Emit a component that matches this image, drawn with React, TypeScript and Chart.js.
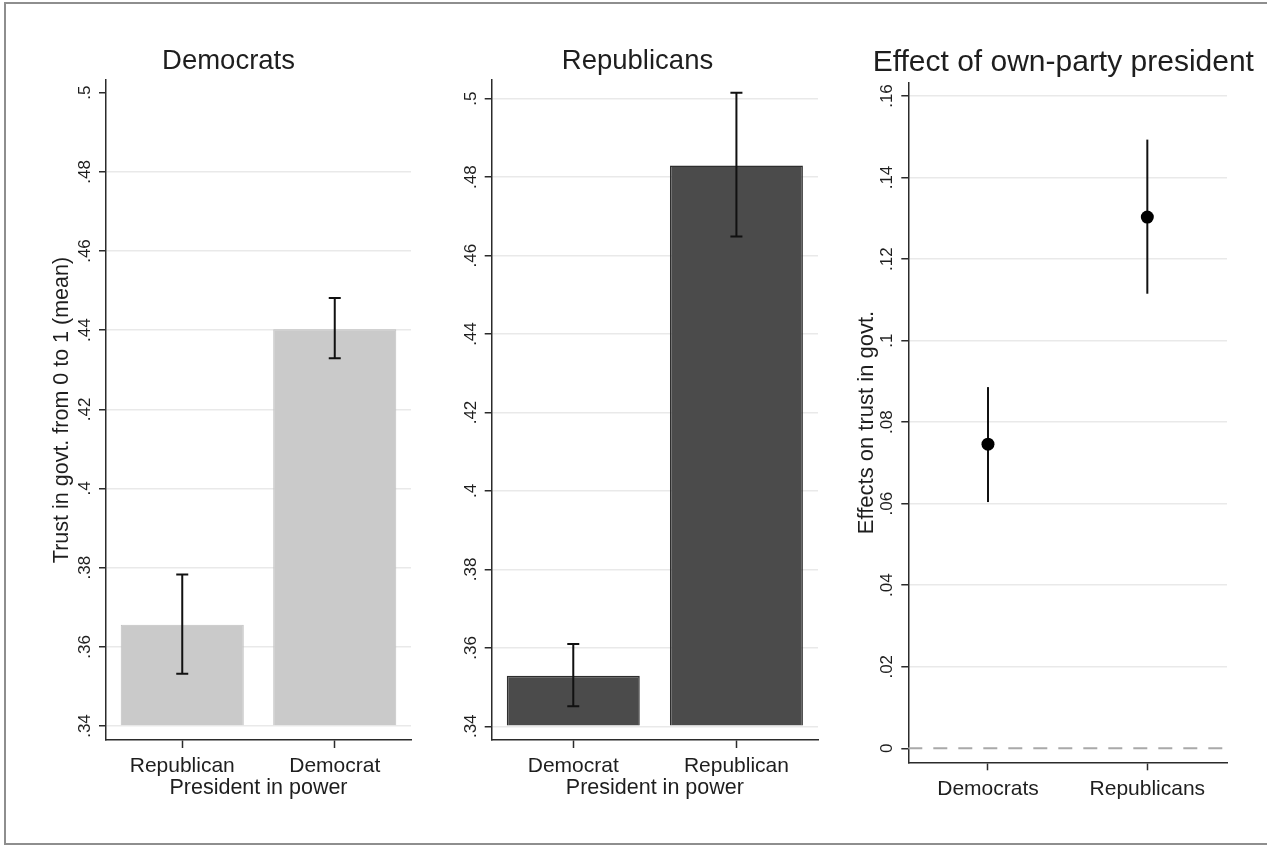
import React, { useEffect, useRef } from 'react';
import { Chart, registerables } from 'chart.js';

Chart.register(...registerables);

const FONT = '"Liberation Sans", Arial, Helvetica, sans-serif';
const TEXT = '#1e1e1e';
const AXIS = '#2b2b2b';
const GRID = '#e9e9e9';

// ---------- data ----------
const demCategories = ['Republican', 'Democrat'];
const demMeans = [0.3656, 0.4402];
const demLow = [0.3532, 0.4329];
const demHigh = [0.3783, 0.4481];

const repCategories = ['Democrat', 'Republican'];
const repMeans = [0.3529, 0.483];
const repLow = [0.3451, 0.4649];
const repHigh = [0.361, 0.5015];

const effectCategories = ['Democrats', 'Republicans'];
const effectEstimates = [0.0746, 0.1303];
const effectLow = [0.0604, 0.1115];
const effectHigh = [0.0886, 0.1493];

const trustTicks = [0.34, 0.36, 0.38, 0.4, 0.42, 0.44, 0.46, 0.48, 0.5];
const effectTicks = [0, 0.02, 0.04, 0.06, 0.08, 0.1, 0.12, 0.14, 0.16];
const barBase = 0.34;

const fmt = (v: number) =>
  v === 0 ? '0' : v.toFixed(2).replace(/0+$/, '').replace(/^0/, '');

type PanelCfg = {
  left: number;
  width: number;
  pl: number;
  pr: number;
  yWidth: number;
  rightWidth: number;
  xHeight: number;
  xTickPad: number;
  title: string;
  titleSize: number;
  titlePad: { top: number; bottom: number };
  yTitle?: string;
  yTitleSize?: number;
  yTitlePad?: number;
  xTitle?: string;
  yMin: number;
  yMax: number;
  ticks: number[];
  hiddenGrid: number[];
  kind: 'bar' | 'point';
  categories: string[];
  values: number[];
  low: number[];
  high: number[];
  barColor?: string;
  barBorder?: string;
  barBorderWidth?: number;
  barPct?: number;
};

function makeChart(canvas: HTMLCanvasElement, c: PanelCfg) {
  const yLabels = {
    id: 'yLabels',
    afterDraw(chart: any) {
      const s = chart.scales.y;
      const ctx = chart.ctx;
      ctx.save();
      ctx.font = `17px ${FONT}`;
      ctx.fillStyle = TEXT;
      ctx.textAlign = 'center';
      ctx.textBaseline = 'alphabetic';
      for (const v of c.ticks) {
        const y = s.getPixelForValue(v);
        ctx.save();
        ctx.translate(chart.chartArea.left - 16, y);
        ctx.rotate(-Math.PI / 2);
        ctx.fillText(fmt(v), 0, 0);
        ctx.restore();
      }
      ctx.restore();
    },
  };

  const drawBars = (chart: any) => {
    const ctx = chart.ctx;
    const ys = chart.scales.y;
    const meta = chart.getDatasetMeta(0);
    ctx.save();
    ctx.strokeStyle = '#111';
    ctx.lineCap = 'butt';
    for (let i = 0; i < c.values.length; i++) {
      const x = meta.data[i].x;
      const y1 = ys.getPixelForValue(c.low[i]);
      const y2 = ys.getPixelForValue(c.high[i]);
      ctx.lineWidth = 2;
      ctx.beginPath();
      ctx.moveTo(x, y1);
      ctx.lineTo(x, y2);
      if (c.kind === 'bar') {
        ctx.moveTo(x - 6, y1);
        ctx.lineTo(x + 6, y1);
        ctx.moveTo(x - 6, y2);
        ctx.lineTo(x + 6, y2);
      }
      ctx.stroke();
    }
    ctx.restore();
  };

  const errorBars = {
    id: 'errorBars',
    beforeDatasetsDraw(chart: any) {
      if (c.kind === 'point') {
        const ctx = chart.ctx;
        const y0 = chart.scales.y.getPixelForValue(0);
        ctx.save();
        ctx.strokeStyle = '#a9a9a9';
        ctx.lineWidth = 2;
        ctx.setLineDash([14, 11]);
        ctx.beginPath();
        ctx.moveTo(chart.chartArea.left, y0);
        ctx.lineTo(chart.chartArea.right, y0);
        ctx.stroke();
        ctx.restore();
        drawBars(chart);
      }
    },
    afterDatasetsDraw(chart: any) {
      if (c.kind === 'bar') drawBars(chart);
    },
  };

  const dataset: any =
    c.kind === 'bar'
      ? {
          data: c.values,
          base: barBase,
          backgroundColor: c.barColor,
          borderColor: c.barBorder,
          borderWidth: c.barBorderWidth,
          barPercentage: c.barPct,
          categoryPercentage: 1,
        }
      : {
          data: c.values,
          showLine: false,
          pointRadius: 6.5,
          pointBackgroundColor: '#000',
          pointBorderColor: '#000',
          pointBorderWidth: 0,
        };

  const scales: any = {
    x: {
      type: 'category',
      offset: true,
      grid: {
        display: true,
        drawOnChartArea: false,
        offset: false,
        tickLength: 8,
        tickColor: AXIS,
        tickWidth: 1.5,
      },
      border: { display: true, color: AXIS, width: 1.5 },
      ticks: {
        color: TEXT,
        font: { family: FONT, size: 21, lineHeight: 1 },
        padding: c.xTickPad,
        maxRotation: 0,
        minRotation: 0,
      },
      title: c.xTitle
        ? {
            display: true,
            text: c.xTitle,
            color: TEXT,
            font: { family: FONT, size: 21.5, lineHeight: 1 },
            padding: { top: 0, bottom: 46.2 },
          }
        : { display: false },
      afterFit(scale: any) {
        scale.height = c.xHeight;
      },
    },
    y: {
      type: 'linear',
      position: 'left',
      min: c.yMin,
      max: c.yMax,
      afterBuildTicks(scale: any) {
        scale.ticks = c.ticks.map((v) => ({ value: v }));
      },
      grid: {
        color: (ctx: any) =>
          ctx.tick && c.hiddenGrid.some((h) => Math.abs(h - ctx.tick.value) < 1e-9)
            ? 'rgba(0,0,0,0)'
            : GRID,
        lineWidth: 1.5,
        tickLength: 7,
        tickColor: AXIS,
        tickWidth: 1.5,
      },
      border: { display: true, color: AXIS, width: 1.5 },
      ticks: { display: false },
      title: c.yTitle
        ? {
            display: true,
            text: c.yTitle,
            color: TEXT,
            font: { family: FONT, size: c.yTitleSize ?? 21.5, lineHeight: 1 },
            padding: { top: c.yTitlePad ?? 0, bottom: 0 },
          }
        : { display: false },
      afterFit(scale: any) {
        scale.width = c.yWidth;
      },
    },
  };
  if (c.rightWidth > 0) {
    scales.yRight = {
      type: 'linear',
      position: 'right',
      display: true,
      grid: { display: false },
      border: { display: false },
      ticks: { display: false },
      afterFit(scale: any) {
        scale.width = c.rightWidth;
      },
    };
  }

  return new Chart(canvas, {
    type: c.kind === 'bar' ? 'bar' : 'line',
    data: { labels: c.categories, datasets: [dataset] },
    options: {
      responsive: false,
      animation: false,
      devicePixelRatio: 1,
      events: [],
      layout: { padding: { left: c.pl, right: c.pr, top: 0, bottom: 0 } },
      plugins: {
        legend: { display: false },
        tooltip: { enabled: false },
        title: {
          display: true,
          text: c.title,
          color: TEXT,
          font: { family: FONT, size: c.titleSize, weight: 'normal', lineHeight: 1.2 },
          padding: c.titlePad,
        },
      },
      scales,
    } as any,
    plugins: [yLabels, errorBars],
  });
}

const panels: PanelCfg[] = [
  {
    left: 0,
    width: 420,
    pl: 46,
    pr: 9,
    yWidth: 60,
    rightWidth: 0,
    xHeight: 105,
    xTickPad: 8.2,
    title: 'Democrats',
    titleSize: 27.5,
    titlePad: { top: 45, bottom: 2 },
    yTitle: 'Trust in govt. from 0 to 1 (mean)',
    yTitlePad: 5.2,
    xTitle: 'President in power',
    yMin: 0.33646,
    yMax: 0.5032,
    ticks: trustTicks,
    hiddenGrid: [0.5],
    kind: 'bar',
    categories: demCategories,
    values: demMeans,
    low: demLow,
    high: demHigh,
    barColor: '#cacaca',
    barBorder: '#c0c0c0',
    barBorderWidth: 1,
    barPct: 0.807,
  },
  {
    left: 420,
    width: 420,
    pl: 37,
    pr: 22,
    yWidth: 34.7,
    rightWidth: 0,
    xHeight: 105,
    xTickPad: 8.2,
    title: 'Republicans',
    titleSize: 27.5,
    titlePad: { top: 45, bottom: 2 },
    xTitle: 'President in power',
    yMin: 0.3365,
    yMax: 0.50477,
    ticks: trustTicks,
    hiddenGrid: [],
    kind: 'bar',
    categories: repCategories,
    values: repMeans,
    low: repLow,
    high: repHigh,
    barColor: '#4b4b4b',
    barBorder: '#2e2e2e',
    barBorderWidth: 1.5,
    barPct: 0.815,
  },
  {
    left: 840,
    width: 427,
    pl: 19.6,
    pr: 0,
    yWidth: 48.7,
    rightWidth: 40,
    xHeight: 82.7,
    xTickPad: 8,
    title: 'Effect of own-party president',
    titleSize: 30,
    titlePad: { top: 44.9, bottom: 1.8 },
    yTitle: 'Effects on trust in govt.',
    yTitleSize: 22,
    yTitlePad: -4.1,
    yMin: -0.003434,
    yMax: 0.16326,
    ticks: effectTicks,
    hiddenGrid: [0],
    kind: 'point',
    categories: effectCategories,
    values: effectEstimates,
    low: effectLow,
    high: effectHigh,
  },
];

function Panel({ cfg }: { cfg: PanelCfg }) {
  const ref = useRef<HTMLCanvasElement | null>(null);
  useEffect(() => {
    if (!ref.current) return;
    const chart = makeChart(ref.current, cfg);
    return () => chart.destroy();
  }, [cfg]);
  return (
    <canvas
      ref={ref}
      width={cfg.width}
      height={845}
      style={{ position: 'absolute', left: cfg.left, top: 0, width: cfg.width, height: 845 }}
    />
  );
}

export default function App() {
  return (
    <div
      style={{
        position: 'fixed',
        left: 0,
        top: 0,
        width: 1267,
        height: 845,
        background: '#fff',
        overflow: 'hidden',
      }}
    >
      <div
        style={{
          position: 'absolute',
          left: 4,
          top: 2,
          width: 1275,
          height: 843,
          boxSizing: 'border-box',
          borderLeft: '2px solid #8e8e8e',
          borderTop: '2px solid #8e8e8e',
          borderBottom: '2px solid #8e8e8e',
        }}
      />
      {panels.map((p, i) => (
        <Panel key={i} cfg={p} />
      ))}
    </div>
  );
}
